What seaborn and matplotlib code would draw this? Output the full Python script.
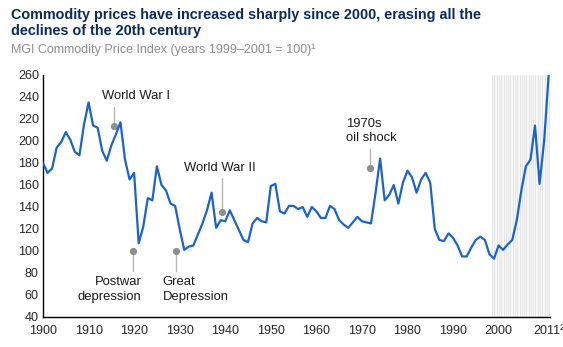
import numpy as np
import pandas as pd
import matplotlib
matplotlib.use("Agg")
import matplotlib.pyplot as plt
import seaborn as sns

years = list(range(1900, 2012))
index_values = [
    180, 171, 175, 194, 199, 208, 201, 190, 187, 215,
    235, 214, 212, 191, 182, 196, 206, 217, 183, 165,
    171, 107, 122, 148, 146, 177, 160, 155, 143, 141,
    120, 101, 104, 105, 115, 125, 137, 153, 121, 128,
    127, 137, 128, 119, 110, 108, 125, 130, 127, 126,
    159, 161, 136, 134, 141, 141, 138, 140, 131, 140,
    136, 130, 130, 141, 138, 128, 124, 121, 126, 131,
    127, 126, 125, 153, 184, 146, 151, 160, 143, 162,
    173, 167, 153, 165, 171, 162, 120, 110, 109, 116,
    112, 105, 95, 95, 103, 110, 113, 110, 97, 93,
    105, 101, 106, 110, 128, 155, 177, 183, 214, 161,
    200, 260,
]
xtick_values = [1900, 1910, 1920, 1930, 1940, 1950, 1960, 1970, 1980, 1990, 2000, 2011]
xtick_labels = ["1900", "1910", "1920", "1930", "1940", "1950", "1960", "1970",
                "1980", "1990", "2000", "2011\u00b2"]
ytick_values = list(range(40, 261, 20))

# annotations: label, year, dot value, line end value, text x, text y, alignment
ann_labels = ["World War I", "World War II", "1970s\noil shock", "Postwar\ndepression", "Great\nDepression"]
ann_years = [1915.5, 1939.2, 1971.8, 1919.7, 1929.3]
ann_dot_vals = [213.5, 135, 175.5, 100, 100]
ann_line_vals = [231, 166, 193, 82, 82]
ann_text_x = [1913.0, 1931.0, 1966.5, 1921.6, 1926.3]
ann_text_y = [241, 175.5, 209, 65, 65]
ann_ha = ["left", "left", "left", "right", "left"]

df = pd.DataFrame({"year": years, "index": index_values})

sns.set_style("white")
plt.rcParams["font.family"] = ["Liberation Sans", "DejaVu Sans"]

fig = plt.figure(figsize=(5.63, 3.47), dpi=100)
ax = fig.add_axes([0.0764, 0.0865, 0.9006, 0.6975])

# shaded projection zone with vertical hatch lines
ax.axvspan(1998.5, 2011.2, facecolor="#f7f7f7", edgecolor="none", zorder=0)
for xv in np.arange(1998.6, 2011.2, 0.5):
    ax.axvline(xv, color="#dedede", lw=0.5, zorder=0.5)

sns.lineplot(data=df, x="year", y="index", ax=ax, color="#1a63cf", lw=1.6, zorder=3)

for lab, yr, dv, lv, tx, ty, ha in zip(ann_labels, ann_years, ann_dot_vals, ann_line_vals,
                                       ann_text_x, ann_text_y, ann_ha):
    ax.plot([yr, yr], [dv, lv], color="#b5b5b5", lw=1.0, zorder=2)
    ax.plot([yr], [dv], marker="o", ms=4.2, color="#8f8f8f", zorder=2)
    ax.text(tx, ty, lab, ha=ha, va="center", fontsize=9.4, color="#1a1a1a", linespacing=1.25)

ax.set_xlim(1900, 2011.3)
ax.set_ylim(40, 260)
ax.set_xticks(xtick_values)
ax.set_xticklabels(xtick_labels)
ax.set_xticks(years, minor=True)
ax.set_yticks(ytick_values)
ax.tick_params(axis="x", which="both", direction="in", length=3, width=0.8, color="black",
               labelsize=9, pad=6)
ax.tick_params(axis="y", direction="in", length=4, width=0.8, color="black", labelsize=9, pad=3)
ax.set_xlabel("")
ax.set_ylabel("")
for s in ["top", "right"]:
    ax.spines[s].set_visible(False)
for s in ["left", "bottom"]:
    ax.spines[s].set_color("black")
    ax.spines[s].set_linewidth(1.0)

fig.text(0.019, 0.978, "Commodity prices have increased sharply since 2000, erasing all the\n"
         "declines of the 20th century", ha="left", va="top", fontsize=10.4,
         fontweight="bold", color="#0b2b5e", linespacing=1.2)
fig.text(0.019, 0.874, "MGI Commodity Price Index (years 1999\u20132001 = 100)\u00b9", ha="left",
         va="top", fontsize=9.0, color="#8c8c8c")

fig.savefig("out.png", dpi=100)
